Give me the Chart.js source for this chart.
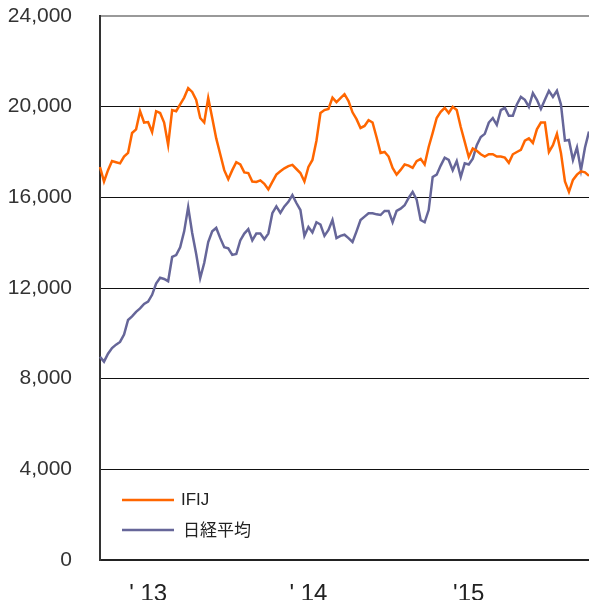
<!DOCTYPE html>
<html>
<head>
<meta charset="utf-8">
<script src="https://cdn.jsdelivr.net/npm/chart.js@4"></script>
<style>
  html, body { margin: 0; padding: 0; background: #fff; }
  #wrap { position: relative; width: 589px; height: 600px; }
</style>
</head>
<body>
<div id="wrap"><canvas id="myChart"></canvas></div>
<script>
// IFIJ index (roughly every 4px, ~weekly)
const ifij = [
  17340, 16700, 17200, 17600, 17550, 17500, 17800, 17960, 18840, 19000,
  19800, 19300, 19320, 18880, 19800, 19720, 19300, 18310, 19850, 19800,
  20100, 20400, 20820, 20650, 20300, 19500, 19300, 20380, 19500, 18600,
  17900, 17200, 16800, 17200, 17550, 17450, 17100, 17070, 16700, 16680,
  16750, 16600, 16350, 16680, 17000, 17150, 17280, 17380, 17430, 17250,
  17070, 16700, 17340, 17650, 18500, 19720, 19850, 19900, 20400, 20200,
  20380, 20550, 20250, 19750, 19450, 19060, 19150, 19400, 19300, 18650,
  17960, 18000, 17800, 17300, 17000, 17210, 17450, 17400, 17300, 17600,
  17700, 17450, 18220, 18840, 19500, 19770, 19950, 19720, 19990, 19850,
  19100, 18450, 17780, 18150, 18050, 17900, 17800, 17900, 17900, 17800,
  17800, 17750, 17520, 17900, 18000, 18090, 18500, 18600, 18400, 19000,
  19300, 19300, 18000, 18300, 18800, 17960, 16700, 16240, 16770, 17000,
  17150, 17100, 16950
];

// Nikkei average
const nikkei = [
  8960, 8750, 9100, 9350, 9500, 9620, 9950, 10590, 10750, 10950,
  11100, 11300, 11400, 11700, 12200, 12450, 12400, 12300, 13370, 13450,
  13800, 14500, 15570, 14430, 13500, 12440, 13100, 14030, 14500, 14650,
  14200, 13800, 13750, 13460, 13500, 14100, 14400, 14600, 14100, 14400,
  14400, 14150, 14400, 15300, 15600, 15310, 15600, 15800, 16100, 15750,
  15440, 14300, 14690, 14450, 14900, 14800, 14300, 14560, 15000, 14200,
  14300, 14350, 14200, 14030, 14500, 15000, 15150, 15300, 15300, 15250,
  15220, 15400, 15400, 14900, 15400, 15500, 15650, 15970, 16240, 15900,
  15000, 14900, 15440, 16900, 17000, 17400, 17750, 17650, 17200, 17600,
  16900, 17500, 17450, 17700, 18300, 18660, 18800, 19300, 19500, 19200,
  19850, 19950, 19600, 19600, 20100, 20430, 20300, 19990, 20600, 20300,
  19900, 20300, 20700, 20430, 20700, 20100, 18500, 18530, 17650, 18200,
  17200, 18200, 18900
];

// year marks on the x axis
const year_labels = { 12: "' 13", 52: "' 14", 92: "'15" };
const labels = ifij.map(function(v, i) { return year_labels[i] || ""; });

const series_names  = ["IFIJ", "日経平均"];
const series_colors = ["#ff6600", "#666699"];

const legendInside = {
    id: 'legendInside',
    afterDraw: function(chart)
    {
        const ctx = chart.ctx;
        const rows = [500, 530];
        ctx.save();
        chart.data.datasets.forEach(function(ds, i) {
            ctx.strokeStyle = ds.borderColor;
            ctx.lineWidth = 2.5;
            ctx.beginPath();
            ctx.moveTo(122, rows[i]);
            ctx.lineTo(174, rows[i]);
            ctx.stroke();
            ctx.fillStyle = "#222";
            ctx.textBaseline = "middle";
            ctx.font = i == 0 ? "17px 'Liberation Sans', sans-serif" : "17px 'Noto Sans CJK JP', sans-serif";
            ctx.fillText(ds.label, i == 0 ? 181 : 183, rows[i]);
        });
        ctx.restore();
    }
};

const ctx = document.getElementById('myChart').getContext('2d');
const myChart = new Chart(ctx, {
    type: 'line',
    data: {
        labels: labels,
        datasets: [{
            label: series_names[0],
            data: ifij,
            borderColor: series_colors[0],
            borderWidth: 2.5,
            pointRadius: 0,
            tension: 0
        }, {
            label: series_names[1],
            data: nikkei,
            borderColor: series_colors[1],
            borderWidth: 2.5,
            pointRadius: 0,
            tension: 0
        }]
    },
    options: {
        responsive: true,
        maintainAspectRatio: false,
        animation: false,
        layout: { padding: 0 },
        plugins: {
            legend: { display: false },
            tooltip: { enabled: false }
        },
        scales: {
            x: {
                grid: { display: false },
                border: { display: true, color: '#222', width: 2 },
                ticks: {
                    autoSkip: false,
                    maxRotation: 0,
                    padding: 12,
                    color: '#222',
                    font: { size: 24, family: "'Liberation Sans', sans-serif" }
                },
                afterFit: function(scale) {
                    scale.height = 40;
                    scale.paddingLeft = 0;
                    scale.paddingRight = 0;
                }
            },
            y: {
                min: 0,
                max: 24000,
                ticks: {
                    stepSize: 4000,
                    padding: 28,
                    color: '#333',
                    font: { size: 21, family: "'Liberation Sans', sans-serif" },
                    callback: function(v) { return v.toLocaleString('en-US'); }
                },
                grid: {
                    drawTicks: false,
                    color: function(c) { return c.tick.value == 24000 ? '#999' : '#111'; },
                    lineWidth: function(c) { return c.tick.value == 24000 ? 2 : 1; }
                },
                border: { display: true, color: '#333', width: 2 },
                afterFit: function(scale) {
                    scale.width = 100;
                    scale.paddingTop = 16;
                    scale.paddingBottom = 0;
                }
            }
        }
    },
    plugins: [legendInside]
});
</script>
</body>
</html>
